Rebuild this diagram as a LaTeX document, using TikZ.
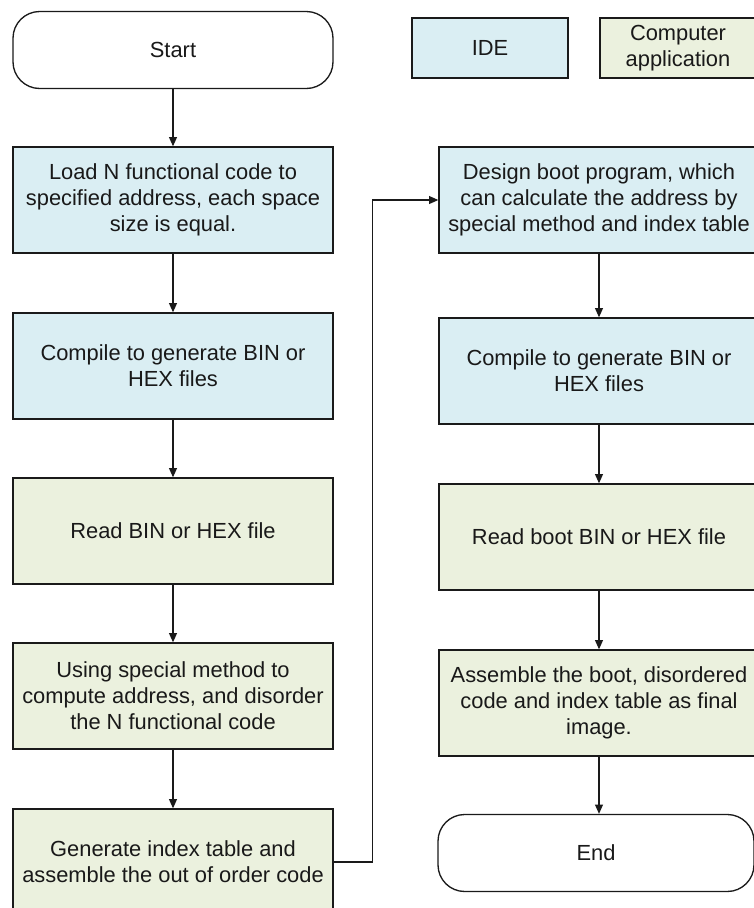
\documentclass[tikz,border=0pt]{standalone}
\usepackage{fontspec}
\setmainfont{Liberation Sans}
\usetikzlibrary{arrows.meta}
\definecolor{idefill}{HTML}{DAEEF3}
\definecolor{appfill}{HTML}{EBF1DE}
\definecolor{edge}{HTML}{1A1A1A}
\begin{document}
\begin{tikzpicture}[x=0.75pt,y=-0.75pt,
  every node/.style={font=\fontsize{16.4}{19.6}\selectfont, align=center, text=black!90},
  idebox/.style={draw=edge, line width=1pt, fill=idefill, minimum width=240pt, minimum height=79.5pt, inner sep=0pt},
  appbox/.style={idebox, fill=appfill},
  terminal/.style={draw=edge, line width=1pt, rounded corners=20pt, fill=white, minimum width=240pt, minimum height=57.75pt, inner sep=0pt},
  legendbox/.style={minimum width=117pt, minimum height=45pt},
  flow/.style={draw=edge, line width=0.8pt, -{Triangle[length=7pt,width=6pt]}}]
\useasboundingbox (0,0) rectangle (754,908);
\clip (0,0) rectangle (754,908);

% left column
\node[terminal] (start) at (173,50) {Start};
\node[idebox] (load) at (173,200) {Load N functional code to\\specified address, each space\\size is equal.};
\node[idebox] (compileA) at (173,366) {Compile to generate BIN or\\HEX files};
\node[appbox] (readA) at (173,531) {Read BIN or HEX file};
\node[appbox] (disorder) at (173,696) {Using special method to\\compute address, and disorder\\the N functional code};
\node[appbox] (index) at (173,862) {Generate index table and\\assemble the out of order code};

% right column
\node[idebox] (boot) at (599,200) {Design boot program, which\\can calculate the address by\\special method and index table};
\node[idebox] (compileB) at (599,371) {Compile to generate BIN or\\HEX files};
\node[appbox] (readB) at (599,537) {Read boot BIN or HEX file};
\node[appbox] (assemble) at (599,703) {Assemble the boot, disordered\\code and index table as final\\image.};
\node[terminal, minimum width=237pt] (finish) at (596,853) {End};

% legend
\node[idebox, legendbox] (ide) at (490,48) {IDE};
\node[appbox, legendbox] (app) at (678,48) {Computer\\application};

% connectors
\draw[flow] (start) -- (load);
\draw[flow] (load) -- (compileA);
\draw[flow] (compileA) -- (readA);
\draw[flow] (readA) -- (disorder);
\draw[flow] (disorder) -- (index);
\draw[flow] (index.east) -- ++(39,0) |- (boot.west);
\draw[flow] (boot) -- (compileB);
\draw[flow] (compileB) -- (readB);
\draw[flow] (readB) -- (assemble);
\draw[flow] (assemble.south) -- (assemble.south |- finish.north);
\end{tikzpicture}
\end{document}
